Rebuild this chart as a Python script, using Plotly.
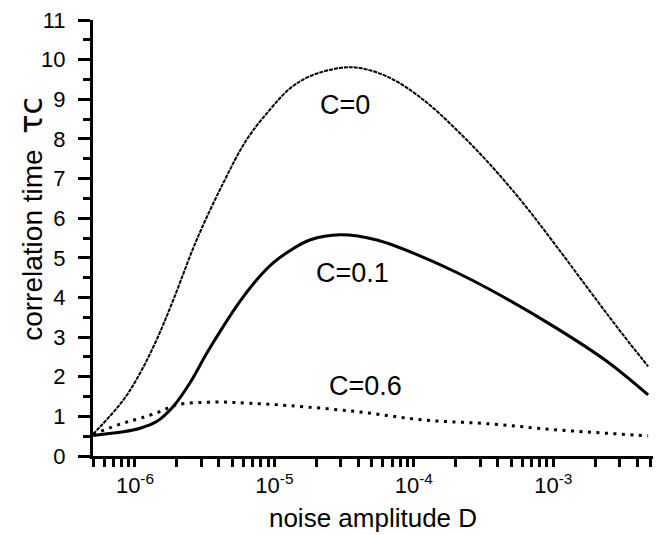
import math
import plotly.graph_objects as go

# Noise amplitude D and correlation time tau_c
D_c0 = [5.01e-7, 8.24e-7, 1.087e-6, 1.429e-6, 1.884e-6, 2.767e-6, 4.30e-6,
        6.32e-6, 9.29e-6, 1.291e-5, 1.795e-5, 2.95e-5, 4.10e-5, 6.73e-5, 1.167e-4,
        2.023e-4, 3.51e-4, 6.08e-4, 1.054e-3, 2.04e-3, 3.16e-3, 4.79e-3]
tau_c0 = [0.55, 1.41, 2.09, 2.93, 3.94, 5.45, 6.89,
          7.98, 8.74, 9.27, 9.58, 9.79, 9.79, 9.54, 8.99,
          8.23, 7.36, 6.38, 5.29, 3.94, 3.06, 2.26]

D_c01 = [5.01e-7, 8.24e-7, 1.087e-6, 1.429e-6, 1.884e-6, 2.477e-6, 3.27e-6, 4.30e-6,
         5.66e-6, 7.45e-6, 9.79e-6, 1.291e-5, 1.795e-5, 2.95e-5, 5.43e-5, 1.16e-4,
         2.03e-4, 3.51e-4, 1.06e-3, 2.42e-3, 4.79e-3]
tau_c01 = [0.52, 0.61, 0.70, 0.87, 1.25, 1.84, 2.59, 3.27,
           3.90, 4.44, 4.87, 5.18, 5.45, 5.58, 5.45, 5.02,
           4.63, 4.20, 3.22, 2.39, 1.54]

D_c06 = [5.01e-7, 8.24e-7, 1.087e-6, 1.510e-6, 1.991e-6, 3.85e-6, 6.67e-6, 1.291e-5,
         3.88e-5, 1.167e-4, 3.51e-4, 1.054e-3, 4.79e-3]
tau_c06 = [0.55, 0.83, 0.95, 1.12, 1.29, 1.36, 1.33, 1.27,
           1.12, 0.91, 0.81, 0.66, 0.51]

curve_labels = ["C=0", "C=0.1", "C=0.6"]
label_pos_D = [3.21e-5, 3.66e-5, 4.47e-5]
label_pos_tau = [8.85, 4.62, 1.77]

decades = [1e-6, 1e-5, 1e-4, 1e-3]
decade_text = ["10<sup>-6</sup>", "10<sup>-5</sup>", "10<sup>-4</sup>", "10<sup>-3</sup>"]
y_ticks = list(range(0, 12))

FONT = "Liberation Sans, Arial, Helvetica, sans-serif"

# tick positions on log axis: 1..9 multiples in each decade
xtickvals = []
xticktext = []
for e in range(-7, -1):
    for m in range(1, 10):
        v = m * 10.0 ** e
        if 4.99e-7 <= v <= 5.3e-3:
            xtickvals.append(v)
            label = ""
            for d, t in zip(decades, decade_text):
                if abs(v - d) < d * 1e-6:
                    label = t
            xticktext.append(label)

fig = go.Figure()
fig.add_trace(go.Scatter(x=D_c0, y=tau_c0, mode="lines", name=curve_labels[0],
                         line=dict(color="black", width=2, dash="4px,1px", shape="spline", smoothing=1.0)))
fig.add_trace(go.Scatter(x=D_c01, y=tau_c01, mode="lines", name=curve_labels[1],
                         line=dict(color="black", width=3, shape="spline", smoothing=1.0)))
fig.add_trace(go.Scatter(x=D_c06, y=tau_c06, mode="lines", name=curve_labels[2],
                         line=dict(color="black", width=3, dash="3px,5.5px", shape="spline", smoothing=1.0)))

for t, xd, yv in zip(curve_labels, label_pos_D, label_pos_tau):
    fig.add_annotation(x=math.log10(xd), y=yv, text=t, showarrow=False,
                       font=dict(family=FONT, size=27, color="black"),
                       xanchor="center", yanchor="middle")

fig.add_annotation(xref="paper", yref="paper", x=-0.11, y=0.545,
                   text="correlation time  <span style=\"font-family:'DejaVu Sans';font-size:32px\">τc</span>",
                   textangle=-90, showarrow=False,
                   font=dict(family=FONT, size=28, color="black"),
                   xanchor="center", yanchor="middle")

fig.update_layout(
    width=660, height=535,
    margin=dict(l=93, r=7, t=20, b=79),
    paper_bgcolor="white", plot_bgcolor="white",
    showlegend=False,
    font=dict(family=FONT, color="black"),
)
fig.update_xaxes(
    type="log", range=[math.log10(5.0e-7), math.log10(5.19e-3)],
    tickmode="array", tickvals=xtickvals, ticktext=xticktext,
    ticks="outside", ticklen=8, tickwidth=2.5, tickcolor="black",
    showline=True, linewidth=3, linecolor="black",
    showgrid=False, zeroline=False,
    tickfont=dict(family=FONT, size=22, color="black"),
    title=dict(text="noise amplitude D", font=dict(family=FONT, size=26, color="black"), standoff=12),
)
fig.update_yaxes(
    range=[0, 11], tickmode="array", tickvals=y_ticks,
    ticks="outside", ticklen=12, tickwidth=2.5, tickcolor="black",
    minor=dict(ticks="outside", ticklen=7, tickwidth=2.5, tickcolor="black", dtick=0.5, showgrid=False),
    showline=True, linewidth=3, linecolor="black",
    showgrid=False, zeroline=False,
    tickfont=dict(family=FONT, size=22, color="black"),
    ticklabelstandoff=8,
)

fig.write_html("out.html")
